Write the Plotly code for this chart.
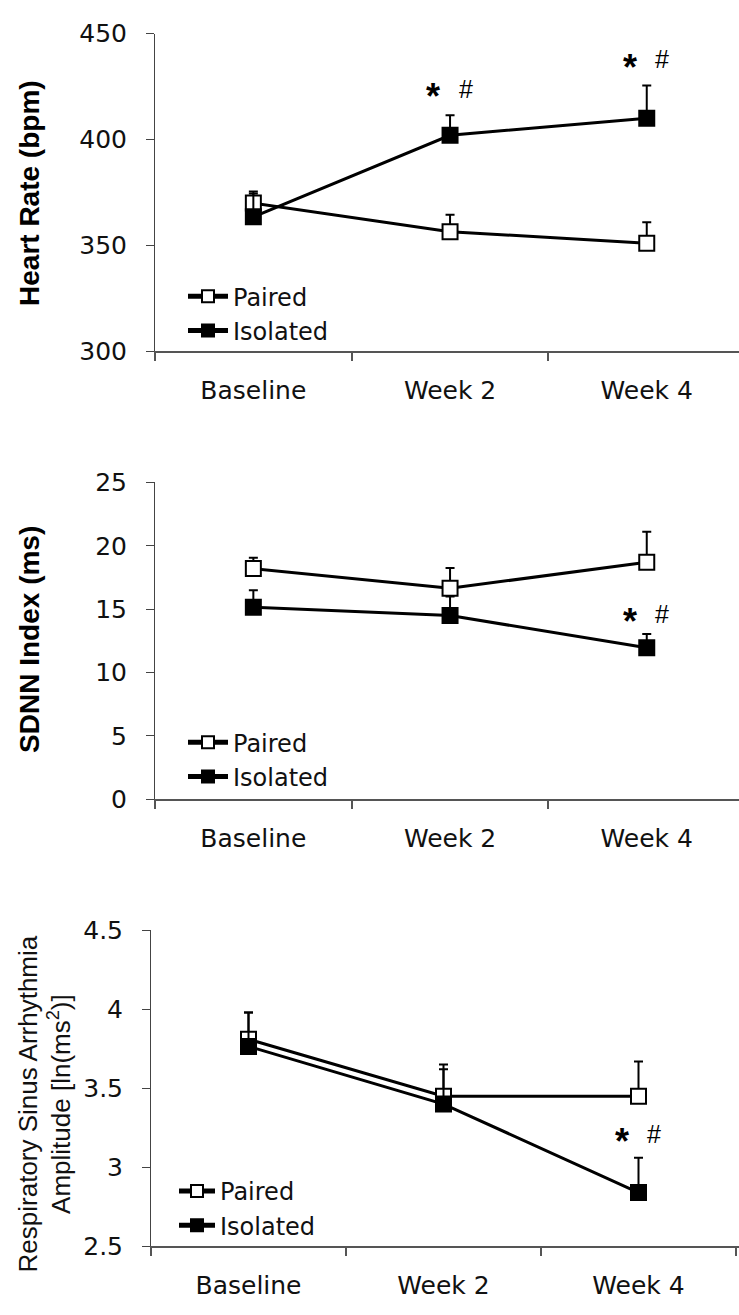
import plotly.graph_objects as go

categories = ["Baseline", "Week 2", "Week 4"]

# Heart rate (bpm)
hr_paired = [370, 356.5, 351]
hr_paired_err = [5.5, 8, 10]
hr_isolated = [363.5, 402, 410]
hr_isolated_err = [11, 9.5, 15.5]

# SDNN index (ms)
sdnn_paired = [18.2, 16.65, 18.7]
sdnn_paired_err = [0.85, 1.6, 2.4]
sdnn_isolated = [15.15, 14.5, 11.95]
sdnn_isolated_err = [1.35, 1.5, 1.1]

# RSA amplitude ln(ms^2)
rsa_paired = [3.81, 3.45, 3.45]
rsa_paired_err = [0.17, 0.2, 0.22]
rsa_isolated = [3.765, 3.40, 2.84]
rsa_isolated_err = [0.215, 0.22, 0.22]

# significance marks: (panel, category index, y value)
sig_marks = [(1, 1, 423), (1, 2, 437), (2, 2, 14.5), (3, 2, 3.2)]

W, H = 739, 1315
FONT = "Liberation Sans, Arial, sans-serif"
WIDE = "DejaVu Sans, sans-serif"

fig = go.Figure()

panels = [
    (hr_paired, hr_paired_err, hr_isolated, hr_isolated_err),
    (sdnn_paired, sdnn_paired_err, sdnn_isolated, sdnn_isolated_err),
    (rsa_paired, rsa_paired_err, rsa_isolated, rsa_isolated_err),
]

for i, (pv, pe, iv, ie) in enumerate(panels, start=1):
    xa = "x" if i == 1 else f"x{i}"
    ya = "y" if i == 1 else f"y{i}"
    lg = "legend" if i == 1 else f"legend{i}"
    for name, vals, errs, fill in [("Paired", pv, pe, "white"), ("Isolated", iv, ie, "black")]:
        fig.add_trace(go.Scatter(
            x=categories, y=vals, name=name, mode="lines+markers",
            xaxis=xa, yaxis=ya, legend=lg,
            line=dict(color="black", width=3),
            marker=dict(symbol="square", size=15, color=fill,
                        line=dict(color="black", width=2)),
            error_y=dict(type="data", symmetric=False, array=errs,
                         arrayminus=[0] * len(errs), color="black",
                         thickness=2, width=4.5),
            showlegend=True,
        ))

# layout geometry (pixels)
ydom_px = [(20, 345), (479, 803), (937, 1260)]
xleft_px = [155, 155, 151]
catw_px = [196.7, 196.7, 195]
yranges = [[300, 450], [0, 25], [2.5, 4.5]]
ytickvals = [[300, 350, 400, 450], [0, 5, 10, 15, 20, 25], [2.5, 3, 3.5, 4, 4.5]]
yticktext = [["300", "350", "400", "450"], ["0", "5", "10", "15", "20", "25"],
             ["2.5", "3", "3.5", "4", "4.5"]]

layout = dict(
    width=W, height=H, margin=dict(l=0, r=0, t=0, b=0),
    paper_bgcolor="white", plot_bgcolor="white",
    font=dict(family=FONT, color="black"),
)
for i in range(3):
    sfx = "" if i == 0 else str(i + 1)
    top, bot = ydom_px[i]
    left = xleft_px[i]
    xmax = -0.5 + (W - left) / catw_px[i]
    layout["xaxis" + sfx] = dict(
        domain=[left / W, 1.0], range=[-0.5, xmax], type="category",
        anchor="y" + sfx, tickson="boundaries", ticks="outside", ticklen=8,
        tickcolor="#555", tickwidth=1.5, showline=True, linecolor="#555", linewidth=1.5,
        showgrid=False, zeroline=False, tickfont=dict(size=25, family=WIDE, color="#111"),
        ticklabelstandoff=16,
    )
    layout["yaxis" + sfx] = dict(
        domain=[1 - bot / H, 1 - top / H], range=yranges[i], anchor="x" + sfx,
        tickvals=ytickvals[i], ticktext=yticktext[i],
        ticks="outside", ticklen=8, tickcolor="#444", tickwidth=1,
        showline=True, linecolor="#444", linewidth=1,
        showgrid=False, zeroline=False, tickfont=dict(size=25, family=WIDE, color="#111"),
        ticklabelstandoff=14,
    )

# (left px, top px, itemwidth)
legend_pos = [(183, 266, 40), (183, 722, 40), (174, 1181, 36)]
for i, (lx, ly, iw) in enumerate(legend_pos):
    key = "legend" if i == 0 else f"legend{i + 1}"
    layout[key] = dict(
        x=lx / W, y=1 - ly / H, xanchor="left", yanchor="top",
        bgcolor="rgba(0,0,0,0)", font=dict(size=24, family=WIDE, color="#111"),
        itemsizing="constant", itemwidth=iw, tracegroupgap=0,
    )

annotations = []
# y axis titles
annotations.append(dict(text="<b>Heart Rate (bpm)</b>", x=30 / W, y=1 - 183 / H,
                        xref="paper", yref="paper", textangle=-90, showarrow=False,
                        xanchor="center", yanchor="middle",
                        font=dict(size=28, family=FONT)))
annotations.append(dict(text="<b>SDNN Index (ms)</b>", x=30 / W, y=1 - 640 / H,
                        xref="paper", yref="paper", textangle=-90, showarrow=False,
                        xanchor="center", yanchor="middle",
                        font=dict(size=28, family=FONT)))
annotations.append(dict(text="Respiratory Sinus Arrhythmia<br>Amplitude [ln(ms<sup>2</sup>)]",
                        x=45 / W, y=1 - 1115 / H, xref="paper", yref="paper",
                        textangle=-90, showarrow=False,
                        xanchor="center", yanchor="middle",
                        font=dict(size=26, family=FONT, color="#111")))
for panel, ci, yv in sig_marks:
    sfx = "" if panel == 1 else str(panel)
    annotations.append(dict(text="<b>*</b>", x=ci - 0.087, y=yv, xref="x" + sfx, yref="y" + sfx,
                            showarrow=False, yshift=-6,
                            font=dict(size=36, family=FONT)))
    annotations.append(dict(text="#", x=ci + 0.08, y=yv, xref="x" + sfx, yref="y" + sfx,
                            showarrow=False, yshift=2,
                            font=dict(size=25, family=FONT)))
layout["annotations"] = annotations

fig.update_layout(**layout)
fig.write_html("out.html")
